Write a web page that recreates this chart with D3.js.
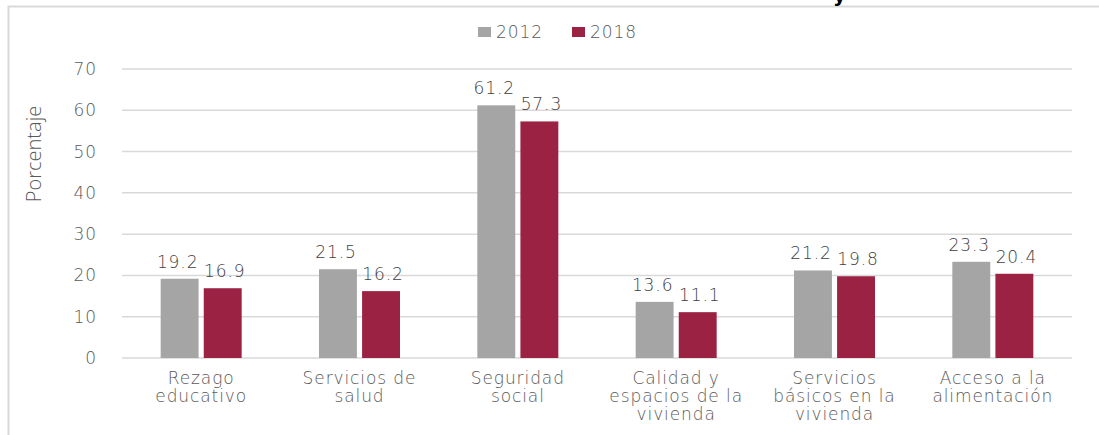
<!DOCTYPE html>
<html>
<head>
    <script src="https://d3js.org/d3.v7.min.js"></script>
    <style>
        body { margin: 0; background: #fff; }
        text { font-family: "DejaVu Sans", sans-serif; font-weight: 200; }
    </style>
</head>
<body>
    <svg width="1099" height="435"></svg>

    <script>
        const svg = d3.select("svg"),
              width = 1099, height = 435,
              margin = { top: 69, right: 27, bottom: 77, left: 122 };

        // Data
        const categories = [
            ["Rezago", "educativo"],
            ["Servicios de", "salud"],
            ["Seguridad", "social"],
            ["Calidad y", "espacios de la", "vivienda"],
            ["Servicios", "básicos en la", "vivienda"],
            ["Acceso a la", "alimentación"]
        ];
        const years = ["2012", "2018"];
        const values2012 = [19.2, 21.5, 61.2, 13.6, 21.2, 23.3];
        const values2018 = [16.9, 16.2, 57.3, 11.1, 19.8, 20.4];
        const yTicks = [0, 10, 20, 30, 40, 50, 60, 70];
        const colors = ["#a5a5a5", "#9b2242"];

        const series = [values2012, values2018];
        const data = categories.map((c, i) => ({ idx: i, vals: series.map(s => s[i]) }));

        const fontSize = 17, spacing = "0.9px";

        // outer frame (only top and left edges visible)
        svg.append("rect")
            .attr("x", 8.5).attr("y", 6.5)
            .attr("width", 1200).attr("height", 600)
            .attr("fill", "none")
            .attr("stroke", "#d9d9d9")
            .attr("stroke-width", 2);

        // tail of a title cut off above the frame
        svg.append("text")
            .attr("x", 833).attr("y", 2)
            .attr("font-size", 20)
            .style("font-weight", "bold")
            .attr("fill", "#000")
            .text("y");

        const x = d3.scaleBand()
            .domain(d3.range(categories.length))
            .range([margin.left, width - margin.right]);
        const x1 = d3.scaleBand()
            .domain(d3.range(years.length))
            .range([0, 81])
            .paddingInner(0.12);
        const y = d3.scaleLinear()
            .domain([0, 70])
            .range([height - margin.bottom, margin.top]);

        // gridlines
        svg.append("g")
            .selectAll("line")
            .data(yTicks)
            .enter().append("line")
            .attr("x1", margin.left).attr("x2", width - margin.right)
            .attr("y1", d => y(d)).attr("y2", d => y(d))
            .attr("stroke", "#d9d9d9")
            .attr("stroke-width", 1.5);

        // y axis labels
        const yAxis = d3.axisLeft(y).tickValues(yTicks).tickSize(0).tickPadding(25);
        svg.append("g")
            .attr("class", "axis")
            .attr("transform", `translate(${margin.left}, 0)`)
            .call(yAxis)
            .call(g => g.select(".domain").remove())
            .call(g => g.selectAll("text")
                .attr("font-family", null)
                .attr("font-size", fontSize)
                .attr("letter-spacing", spacing)
                .attr("fill", "#595959"));

        svg.append("text")
            .attr("transform", "translate(41, 154) rotate(-90)")
            .attr("text-anchor", "middle")
            .style("font-family", "Open Sans")
            .style("font-weight", 300)
            .attr("font-size", 20)
            .attr("fill", "#595959")
            .text("Porcentaje");

        // bars
        const groups = svg.append("g")
            .selectAll("g")
            .data(data)
            .enter().append("g")
            .attr("transform", d => `translate(${x(d.idx) + x.bandwidth() / 2 - 40.5}, 0)`);

        groups.selectAll("rect")
            .data(d => d.vals.map((v, k) => ({ k, v })))
            .enter().append("rect")
            .attr("x", d => x1(d.k))
            .attr("y", d => y(d.v))
            .attr("width", x1.bandwidth())
            .attr("height", d => y(0) - y(d.v))
            .attr("fill", d => colors[d.k]);

        groups.selectAll("text")
            .data(d => d.vals.map((v, k) => ({ k, v })))
            .enter().append("text")
            .attr("x", d => x1(d.k) + x1.bandwidth() / 2 + (d.k === 0 ? -2 : 2))
            .attr("y", d => y(d.v) - 11)
            .attr("text-anchor", "middle")
            .attr("font-size", fontSize)
            .attr("letter-spacing", spacing)
            .attr("fill", "#404040")
            .text(d => d.v.toFixed(1));

        // category labels
        const catLabels = svg.append("g")
            .selectAll("text")
            .data(categories)
            .enter().append("text")
            .attr("x", (d, i) => x(i) + x.bandwidth() / 2)
            .attr("y", 384)
            .attr("text-anchor", "middle")
            .attr("font-size", fontSize)
            .attr("letter-spacing", spacing)
            .attr("fill", "#595959");
        catLabels.selectAll("tspan")
            .data(d => d)
            .enter().append("tspan")
            .attr("x", function () { return this.parentNode.getAttribute("x"); })
            .attr("dy", (d, i) => i === 0 ? 0 : 18)
            .text(d => d);

        // legend
        const legend = svg.append("g")
            .attr("class", "legend")
            .selectAll("g")
            .data(years)
            .enter().append("g")
            .attr("transform", (d, i) => `translate(${478 + i * 94}, 27)`);
        legend.append("rect")
            .attr("width", 13).attr("height", 10)
            .attr("fill", (d, i) => colors[i]);
        legend.append("text")
            .attr("x", 18).attr("y", 11)
            .attr("font-size", fontSize)
            .attr("letter-spacing", spacing)
            .attr("fill", "#595959")
            .text(d => d);
    </script>
</body>
</html>
